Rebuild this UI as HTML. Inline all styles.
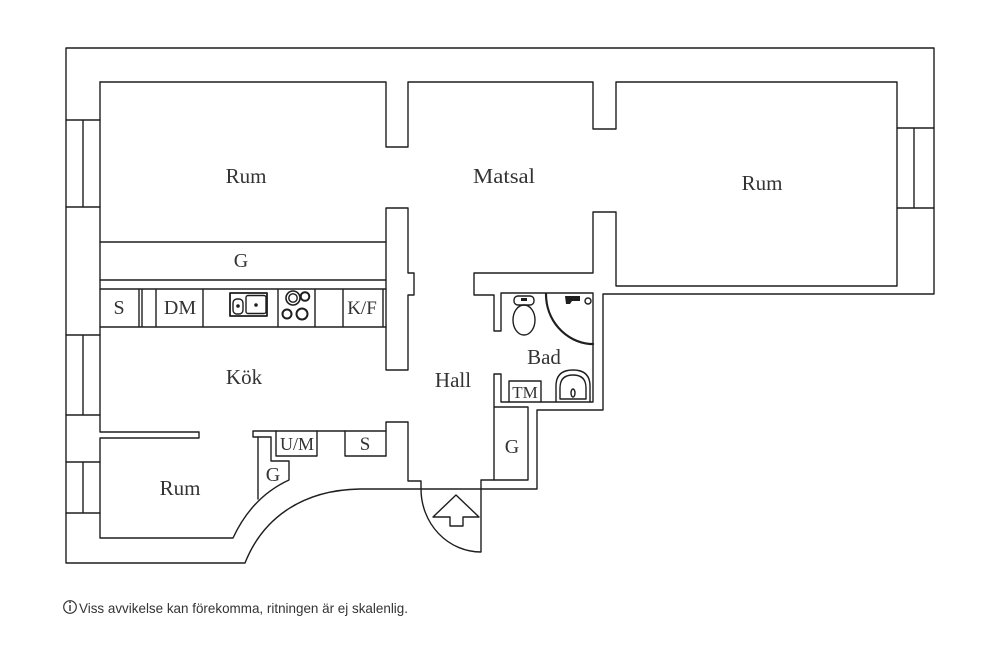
<!DOCTYPE html>
<html><head><meta charset="utf-8"><style>
html,body{margin:0;padding:0;background:#fff;}
svg{display:block;}
.l{fill:none;stroke:#1e1e1e;stroke-width:1.4;stroke-linejoin:round;stroke-linecap:round;}
.t{font-family:"Liberation Serif",serif;fill:#333;text-anchor:middle;}
</style></head><body>
<svg width="1000" height="667" viewBox="0 0 1000 667" xmlns="http://www.w3.org/2000/svg">
<rect width="1000" height="667" fill="#fff"/>
<!-- outer perimeter -->
<path class="l" d="M66,48 L934,48 L934,294 L603,294 L603,410 L537,410 L537,489 L360,489 C300,490 262,520 245,563 L66,563 Z"/>
<!-- left windows -->
<path class="l" d="M66,120 L100,120 M66,207 L100,207 M83,120 L83,207
M66,335 L100,335 M66,415 L100,415 M83,335 L83,415
M66,462 L100,462 M66,513 L100,513 M83,462 L83,513"/>
<!-- right window -->
<path class="l" d="M897,128 L934,128 M897,208 L934,208 M914,128 L914,208"/>
<!-- top interior -->
<path class="l" d="M100,82 L386,82 L386,147 L408,147 L408,82 L593,82 L593,129 L616,129 L616,82 L897,82 L897,286 L616,286 L616,212 L593,212 L593,273 L474,273 L474,295 L494,295 L494,331 L501,331 L501,293 L593,293 L593,402 L501,402 L501,374 L494,374 L494,480 L528,480 L528,407 L494,407"/>
<path class="l" d="M481,480 L494,480 M481,480 L481,489"/>
<!-- left inner wall and bottom rum -->
<path class="l" d="M100,82 L100,432 L199,432 L199,438 L100,438 L100,538 L233,538 Q252,497 289,480 L289,461 L271,461 L271,437 L253,437 L253,431 L386,431"/>
<path class="l" d="M258,437 L258,499"/>
<!-- kitchen right wall stub -->
<path class="l" d="M386,208 L408,208 L408,273 L414,273 L414,295 L408,295 L408,370 L386,370 L386,208"/>
<!-- G strip and counter -->
<path class="l" d="M100,242 L386,242 M100,280 L386,280 M100,289 L386,289 M100,327 L386,327
M139,289 L139,327 M142,289 L142,327 M156,289 L156,327 M203,289 L203,327 M278,289 L278,327 M315,289 L315,327 M343,289 L343,327 M383,289 L383,327"/>
<!-- hall wall lower -->
<path class="l" d="M386,456 L386,422 L408,422 L408,481 L421,481 L421,489"/>
<!-- closets -->
<path class="l" d="M276,431 L276,456 L317,456 L317,431 M345,431 L345,456 L386,456"/>
<!-- door -->
<path class="l" d="M421,489 A60,63 0 0,0 481,552 L481,489"/>
<path class="l" d="M456,495 L479,517 L463,517 L463,526 L450,526 L450,517 L433,517 Z"/>
<!-- kitchen sink -->
<rect x="230" y="293" width="37" height="23" class="l" style="stroke-width:1.8"/>
<rect x="233" y="299" width="10" height="15" rx="4" class="l"/>
<rect x="246" y="295.5" width="20" height="18" rx="2" class="l"/>
<circle cx="238" cy="306" r="1.8" fill="#1e1e1e"/>
<circle cx="256" cy="305" r="1.8" fill="#1e1e1e"/>
<!-- stove -->
<circle cx="293" cy="298" r="7" class="l" style="stroke-width:1.6"/>
<circle cx="293" cy="298" r="4.2" class="l" style="stroke-width:1.4"/>
<circle cx="305" cy="296.5" r="4.3" class="l" style="stroke-width:2"/>
<circle cx="287" cy="314" r="4.5" class="l" style="stroke-width:2"/>
<circle cx="302" cy="314" r="5.5" class="l" style="stroke-width:2"/>
<!-- toilet -->
<rect x="514" y="296" width="20" height="9" rx="4" class="l"/>
<rect x="521" y="298" width="6" height="3" fill="#1e1e1e"/>
<ellipse cx="524" cy="320" rx="11" ry="15" class="l"/>
<!-- shower -->
<path class="l" d="M546,294 A48,50 0 0,0 590,344 L593,344" style="stroke-width:2.2"/>
<path d="M565,296 L580,296 L580,301 L572,301 L570,304 L566,304 Z" fill="#1e1e1e"/>
<circle cx="588" cy="301" r="3" class="l"/>
<!-- bath sink -->
<path class="l" d="M556,402 L556,386 Q556,370 573,370 Q590,370 590,386 L590,402"/>
<path class="l" d="M560,399 L560,388 Q560,375 573,375 Q586,375 586,388 L586,399 Z"/>
<ellipse cx="573" cy="393" rx="2" ry="4" class="l"/>
<!-- TM box -->
<path class="l" d="M509,402 L509,381 L541,381 L541,402"/>
<!-- labels -->
<text class="t" x="246" y="183" font-size="21">Rum</text>
<text class="t" x="504" y="183" font-size="21" textLength="62" lengthAdjust="spacingAndGlyphs">Matsal</text>
<text class="t" x="762" y="190" font-size="21">Rum</text>
<text class="t" x="241" y="267" font-size="20">G</text>
<text class="t" x="119" y="314" font-size="20">S</text>
<text class="t" x="180" y="314" font-size="20">DM</text>
<text class="t" x="362" y="314" font-size="19">K/F</text>
<text class="t" x="244" y="384" font-size="21">Kök</text>
<text class="t" x="453" y="387" font-size="21">Hall</text>
<text class="t" x="544" y="364" font-size="21">Bad</text>
<text class="t" x="525" y="398" font-size="17">TM</text>
<text class="t" x="512" y="453" font-size="20">G</text>
<text class="t" x="297" y="450" font-size="18">U/M</text>
<text class="t" x="365" y="450" font-size="19">S</text>
<text class="t" x="273" y="481" font-size="20">G</text>
<text class="t" x="180" y="495" font-size="21">Rum</text>
<!-- footer -->
<circle cx="70" cy="607" r="6.3" fill="none" stroke="#333" stroke-width="1.2"/>
<line x1="70" y1="605" x2="70" y2="611" stroke="#333" stroke-width="1.4"/>
<circle cx="70" cy="602.3" r="0.9" fill="#333"/>
<text x="79" y="613" font-family="'Liberation Sans',sans-serif" font-size="14" fill="#333" textLength="329" lengthAdjust="spacingAndGlyphs">Viss avvikelse kan förekomma, ritningen är ej skalenlig.</text>
</svg>
</body></html>
